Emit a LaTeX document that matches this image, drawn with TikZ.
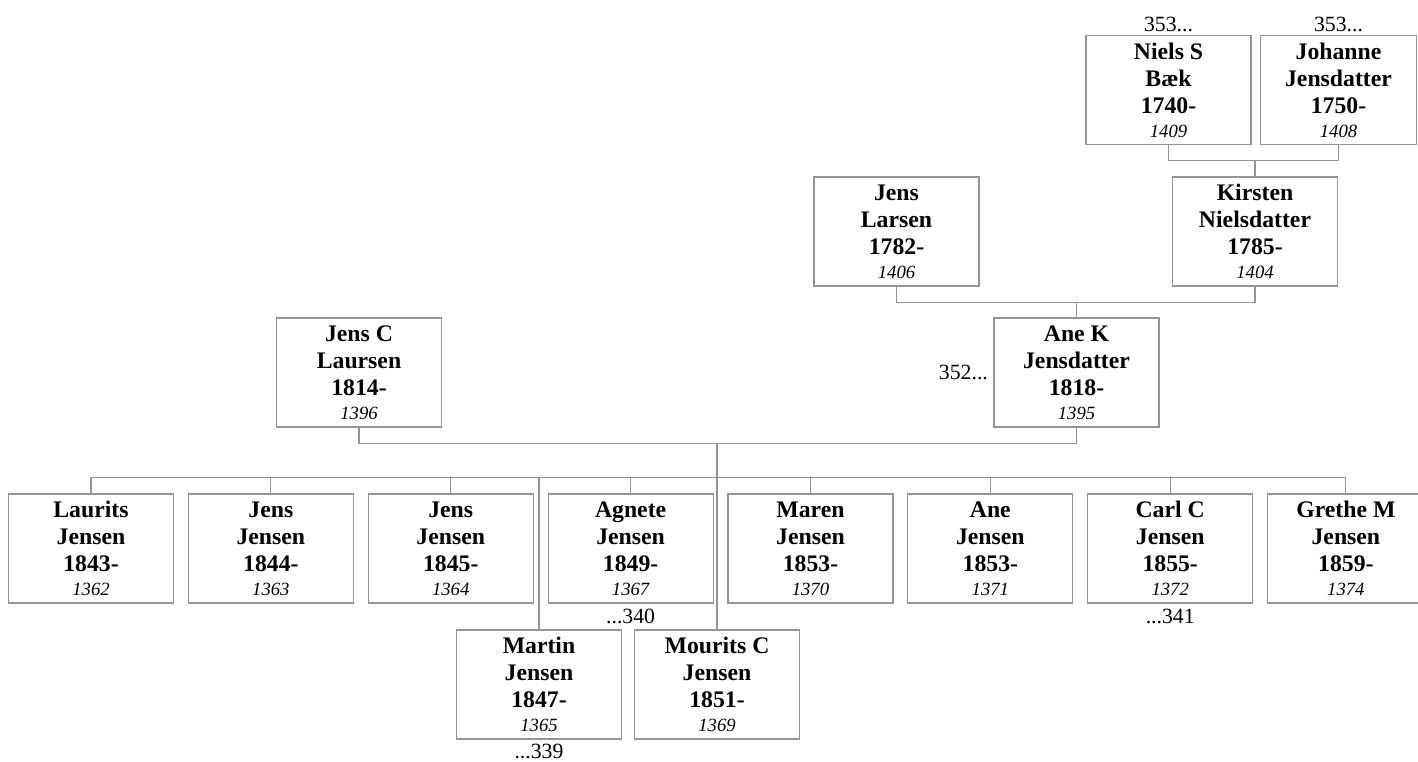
\documentclass[tikz,border=0pt]{standalone}
\usepackage{fontspec}
\setmainfont{Liberation Serif}
\usetikzlibrary{positioning}
\newcommand{\refno}[1]{\\[-2.25pt]{\fontsize{14}{20.25}\selectfont\mdseries\itshape #1}}

\begin{document}
\begin{tikzpicture}[x=0.75pt,y=-0.75pt,
 person/.style={rectangle,draw=black!42,line width=0.8pt,align=center,
                minimum width=123.75pt,minimum height=81.75pt,inner sep=0pt,
                font=\fontsize{17.8}{20.25}\selectfont\bfseries,
                execute at begin node={\rule{0pt}{16.5pt}}},
 narrow/.style={person,minimum width=117.5pt},
 more/.style={inner sep=1pt,font=\fontsize{16.3}{18}\selectfont},
 link/.style={draw=black!42,line width=0.8pt}
]
\useasboundingbox (0,0) rectangle (1418,761);
% grandparents
\node[person] (niels) at (1168.5,90) {Niels S\\Bæk\\1740-\refno{1409}};
\node[narrow] (johanne) at (1338.5,90) {Johanne\\Jensdatter\\1750-\refno{1408}};
\node[more,above=1pt of niels] (nielsup) {353...};
\node[more,above=1pt of johanne] (johanneup) {353...};
% parents of Ane K
\node[person] (jensl) at (896.5,231.5) {Jens\\Larsen\\1782-\refno{1406}};
\node[person] (kirsten) at (1255,231.5) {Kirsten\\Nielsdatter\\1785-\refno{1404}};
% parents
\node[person] (jensc) at (359,372.5) {Jens C\\Laursen\\1814-\refno{1396}};
\node[person] (aneK) at (1076.5,372.5) {Ane K\\Jensdatter\\1818-\refno{1395}};
\node[more,left=3pt of aneK] (aneKup) {352...};
% children
\node[person] (laurits) at (91,548.5) {Laurits\\Jensen\\1843-\refno{1362}};
\node[person,right=10.35pt of laurits] (jens1) {Jens\\Jensen\\1844-\refno{1363}};
\node[person,right=10.35pt of jens1] (jens2) {Jens\\Jensen\\1845-\refno{1364}};
\node[person,right=10.35pt of jens2] (agnete) {Agnete\\Jensen\\1849-\refno{1367}};
\node[person,right=10.35pt of agnete] (maren) {Maren\\Jensen\\1853-\refno{1370}};
\node[person,right=10.35pt of maren] (ane) {Ane\\Jensen\\1853-\refno{1371}};
\node[person,right=10.35pt of ane] (carl) {Carl C\\Jensen\\1855-\refno{1372}};
\node[narrow,right=10.35pt of carl] (grethe) {Grethe M\\Jensen\\1859-\refno{1374}};
\node[person] (martin) at (539,684.5) {Martin\\Jensen\\1847-\refno{1365}};
\node[person] (mourits) at (717,684.5) {Mourits C\\Jensen\\1851-\refno{1369}};
\node[more,below=3pt of agnete] (agnetedown) {...340};
\node[more,below=3pt of carl] (carldown) {...341};
\node[more,below=2pt of martin] (martindown) {...339};
% connectors
\draw[link] (niels.south) -- ++(0,15) coordinate (gpbar) -| (johanne.south);
\draw[link] (kirsten.north) -- (kirsten.north |- gpbar);
\draw[link] (jensl.south) -- ++(0,16) coordinate (mbar) -| (kirsten.south);
\draw[link] (aneK.north) -- (aneK.north |- mbar);
\draw[link] (jensc.south) -- ++(0,15.5) coordinate (pbar) -| (aneK.south);
\draw[link] (laurits.north) -- ++(0,-16) coordinate (kbar) -| (grethe.north);
\foreach \c in {jens1,jens2,agnete,maren,ane,carl}
  \draw[link] (\c.north) -- (\c.north |- kbar);
\draw[link] (martin.north) -- (martin.north |- kbar);
\draw[link] (mourits.north) -- (mourits.north |- pbar);
\end{tikzpicture}
\end{document}
